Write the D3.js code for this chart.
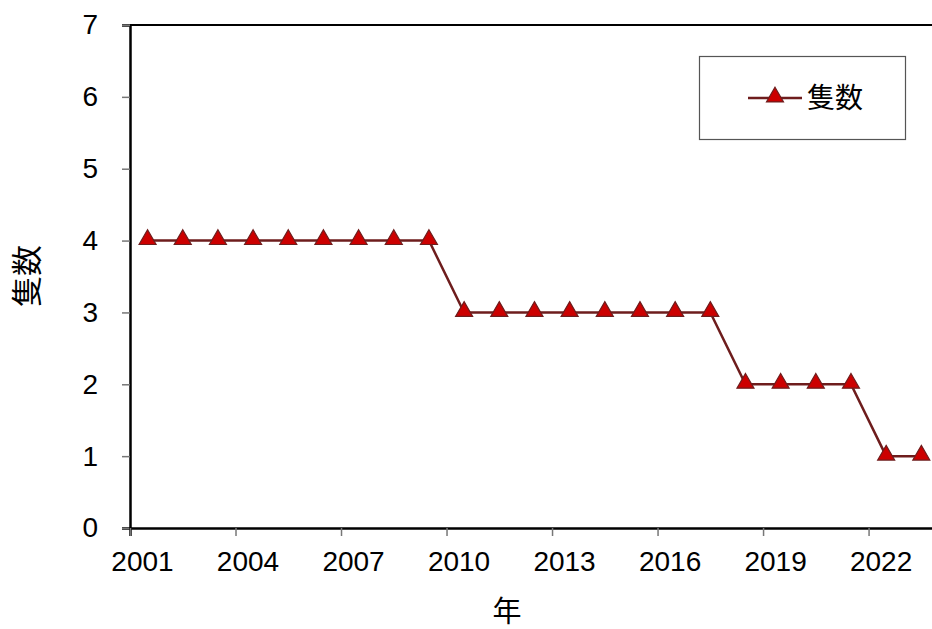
<!DOCTYPE html>
<html>
<head>
<meta charset="utf-8">
<script src="https://cdn.jsdelivr.net/npm/d3@7"></script>
<style>
  body { margin: 0; background: #fff; }
  text { font-family: "Liberation Sans", Arial, sans-serif; }
  .cjk { font-family: "Noto Sans CJK JP", "Noto Sans CJK SC", sans-serif; }
</style>
</head>
<body>
<div id="chart"></div>
<script>
// data
var years = [2001, 2002, 2003, 2004, 2005, 2006, 2007, 2008, 2009, 2010, 2011, 2012,
             2013, 2014, 2015, 2016, 2017, 2018, 2019, 2020, 2021, 2022, 2023];
var counts = [4, 4, 4, 4, 4, 4, 4, 4, 4, 3, 3, 3, 3, 3, 3, 3, 3, 2, 2, 2, 2, 1, 1];
var xTicks = [2001, 2004, 2007, 2010, 2013, 2016, 2019, 2022];
var yTicks = [0, 1, 2, 3, 4, 5, 6, 7];
var seriesName = '隻数';

var width = 932, height = 629;
var plotLeft = 130, plotTop = 25, plotBottom = 528;

var svg = d3.select('#chart')
    .append('svg')
    .attr('width', width)
    .attr('height', height);

var x = d3.scaleLinear().domain([2001, 2024]).range([plotLeft, plotLeft + 23 * 35.17]);
var y = d3.scaleLinear().domain([0, 7]).range([plotBottom, plotTop]);

// top border
svg.append('line')
    .attr('x1', plotLeft).attr('x2', width)
    .attr('y1', plotTop).attr('y2', plotTop)
    .attr('stroke', '#000').attr('stroke-width', 2);

// y axis
var yAxis = svg.append('g')
    .attr('transform', 'translate(' + plotLeft + ',0)')
    .call(d3.axisLeft(y).tickValues(yTicks).tickFormat(d3.format('d')).tickSize(8).tickPadding(24));
yAxis.select('.domain').attr('stroke', '#000').attr('stroke-width', 2.5);
yAxis.selectAll('.tick line').attr('stroke', '#777').attr('stroke-width', 1.5);
yAxis.selectAll('.tick text').attr('font-size', 28).attr('fill', '#000')
    .style('font-family', '"Liberation Sans", Arial, sans-serif');

// x axis
var xAxis = svg.append('g')
    .attr('transform', 'translate(0,' + plotBottom + ')')
    .call(d3.axisBottom(x).tickValues(xTicks).tickFormat(d3.format('d')).tickSize(8).tickPadding(15));
xAxis.select('.domain').attr('stroke', '#000').attr('stroke-width', 2.5);
xAxis.selectAll('.tick line').attr('stroke', '#777').attr('stroke-width', 1.5);
xAxis.selectAll('.tick text').attr('font-size', 28).attr('fill', '#000')
    .attr('dx', 12)
    .style('font-family', '"Liberation Sans", Arial, sans-serif');

// line
var line = d3.line()
    .x(function(d, i) { return x(years[i] + 0.5); })
    .y(function(d) { return y(d); });

svg.append('path')
    .datum(counts)
    .attr('d', line)
    .attr('fill', 'none')
    .attr('stroke', '#6e1d1d')
    .attr('stroke-width', 2.5);

var tri = d3.symbol().type(d3.symbolTriangle).size(125);

svg.selectAll('.pt')
    .data(counts)
    .enter()
    .append('path')
    .attr('class', 'pt')
    .attr('d', tri)
    .attr('transform', function(d, i) {
        return 'translate(' + x(years[i] + 0.5) + ',' + (y(d) - 1) + ')';
    })
    .attr('fill', '#cc0000')
    .attr('stroke', '#6e1d1d')
    .attr('stroke-width', 1.2);

// legend
var lg = svg.append('g');
lg.append('rect')
    .attr('x', 699.5).attr('y', 56.5).attr('width', 206).attr('height', 83)
    .attr('fill', '#fff').attr('stroke', '#555').attr('stroke-width', 1.2);
lg.append('line')
    .attr('x1', 748).attr('x2', 802).attr('y1', 98).attr('y2', 98)
    .attr('stroke', '#6e1d1d').attr('stroke-width', 2.5);
lg.append('path')
    .attr('d', tri)
    .attr('transform', 'translate(775,97)')
    .attr('fill', '#cc0000')
    .attr('stroke', '#6e1d1d')
    .attr('stroke-width', 1.2);
lg.append('text')
    .attr('class', 'cjk')
    .attr('x', 807).attr('y', 108)
    .attr('font-size', 28)
    .text(seriesName);

// axis titles
svg.append('text')
    .attr('class', 'cjk')
    .attr('transform', 'translate(38,276) rotate(-90)')
    .attr('text-anchor', 'middle')
    .attr('font-size', 31)
    .text('隻数');

svg.append('text')
    .attr('class', 'cjk')
    .attr('x', 507).attr('y', 622)
    .attr('text-anchor', 'middle')
    .attr('font-size', 29)
    .text('年');
</script>
</body>
</html>
